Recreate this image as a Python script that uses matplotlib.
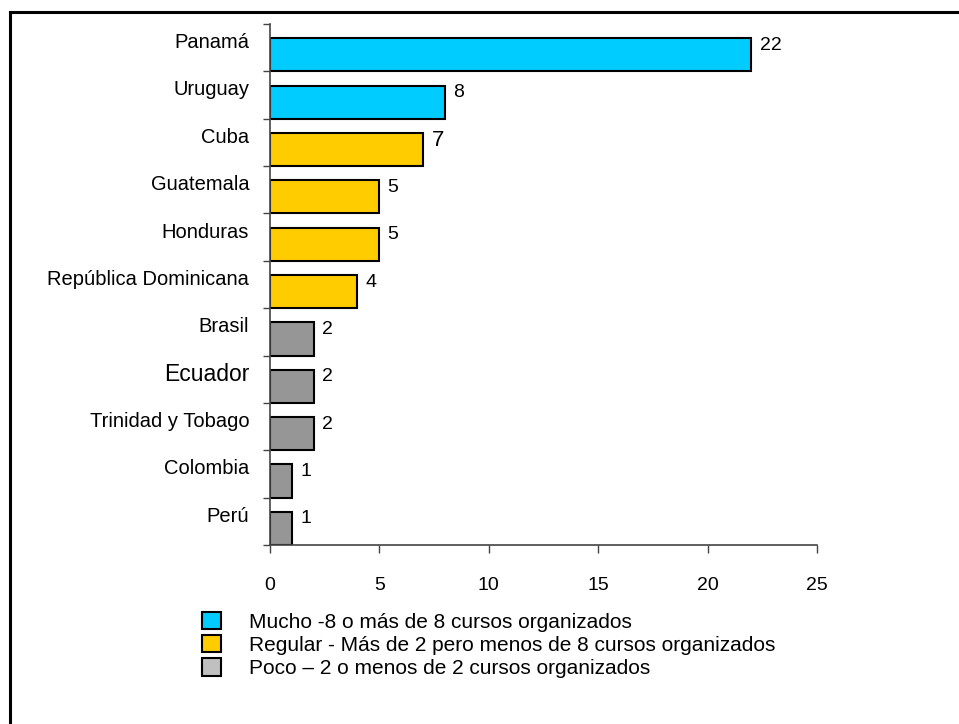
import matplotlib
matplotlib.use("Agg")
import matplotlib.pyplot as plt
from matplotlib.patches import Patch
from matplotlib.lines import Line2D

paises = ["Panamá", "Uruguay", "Cuba", "Guatemala", "Honduras",
          "República Dominicana", "Brasil", "Ecuador", "Trinidad y Tobago",
          "Colombia", "Perú"]
cursos = [22, 8, 7, 5, 5, 4, 2, 2, 2, 1, 1]
nivel = ["Mucho", "Mucho", "Regular", "Regular", "Regular", "Regular",
         "Poco", "Poco", "Poco", "Poco", "Poco"]

leyenda = ["Mucho -8 o más de 8 cursos organizados",
           "Regular - Más de 2 pero menos de 8 cursos organizados",
           "Poco – 2 o menos de 2 cursos organizados"]
ticks_x = [0, 5, 10, 15, 20, 25]

colores = {"Mucho": "#00CCFF", "Regular": "#FFCC00", "Poco": "#969696"}
colores_leyenda = ["#00CCFF", "#FFCC00", "#C0C0C0"]

plt.rcParams['font.family'] = ['Liberation Sans', 'DejaVu Sans']

fig = plt.figure(figsize=(9.59, 7.24), dpi=100)
ax = fig.add_axes([0.2815, 0.2472, 0.5705, 0.7197])

n = len(paises)
pos = [i + 0.65 for i in range(n)]
ax.barh(pos, cursos, height=0.7, color=[colores[c] for c in nivel],
        edgecolor="black", linewidth=1.5)

for i, v in enumerate(cursos):
    tam = 16 if v == 7 else 14
    ax.annotate(str(v), xy=(v, i + 0.45), xytext=(6, 0), textcoords="offset points",
                va="center", ha="left", fontsize=tam)

ax.set_ylim(n, 0)
ax.set_xlim(0, 25)
ax.set_xticks(ticks_x)
ax.set_xticklabels([str(t) for t in ticks_x], fontsize=14)
ax.tick_params(axis="x", length=6, width=1, pad=17, color="#444444")

ax.set_yticks(range(n + 1))
ax.set_yticklabels([])
ax.set_yticks([i + 0.35 for i in range(n)], minor=True)
ax.set_yticklabels(paises, minor=True, fontsize=14.5)
ax.tick_params(axis="y", which="major", length=5, width=1, color="#444444")
ax.tick_params(axis="y", which="minor", length=0, pad=15)
for lab in ax.get_yticklabels(minor=True):
    if lab.get_text() == "Ecuador":
        lab.set_fontsize(16.5)

for s in ["top", "right"]:
    ax.spines[s].set_visible(False)
for s in ["left", "bottom"]:
    ax.spines[s].set_color("#444444")
    ax.spines[s].set_linewidth(1.2)

handles = [Patch(facecolor=c, edgecolor="black", linewidth=1.5) for c in colores_leyenda]
fig.legend(handles, leyenda, loc="upper left", bbox_to_anchor=(0.2106, 0.155),
           frameon=False, fontsize=15, handlelength=0.92, handleheight=0.92,
           handletextpad=1.35, labelspacing=0.15, borderpad=0, borderaxespad=0)

# marco
fig.add_artist(Line2D([10 / 959, 10 / 959], [0, 1 - 12 / 724], color="black", linewidth=2.2))
fig.add_artist(Line2D([10 / 959, 1], [1 - 12 / 724, 1 - 12 / 724], color="black", linewidth=2.2))

fig.savefig("out.png", dpi=100)
